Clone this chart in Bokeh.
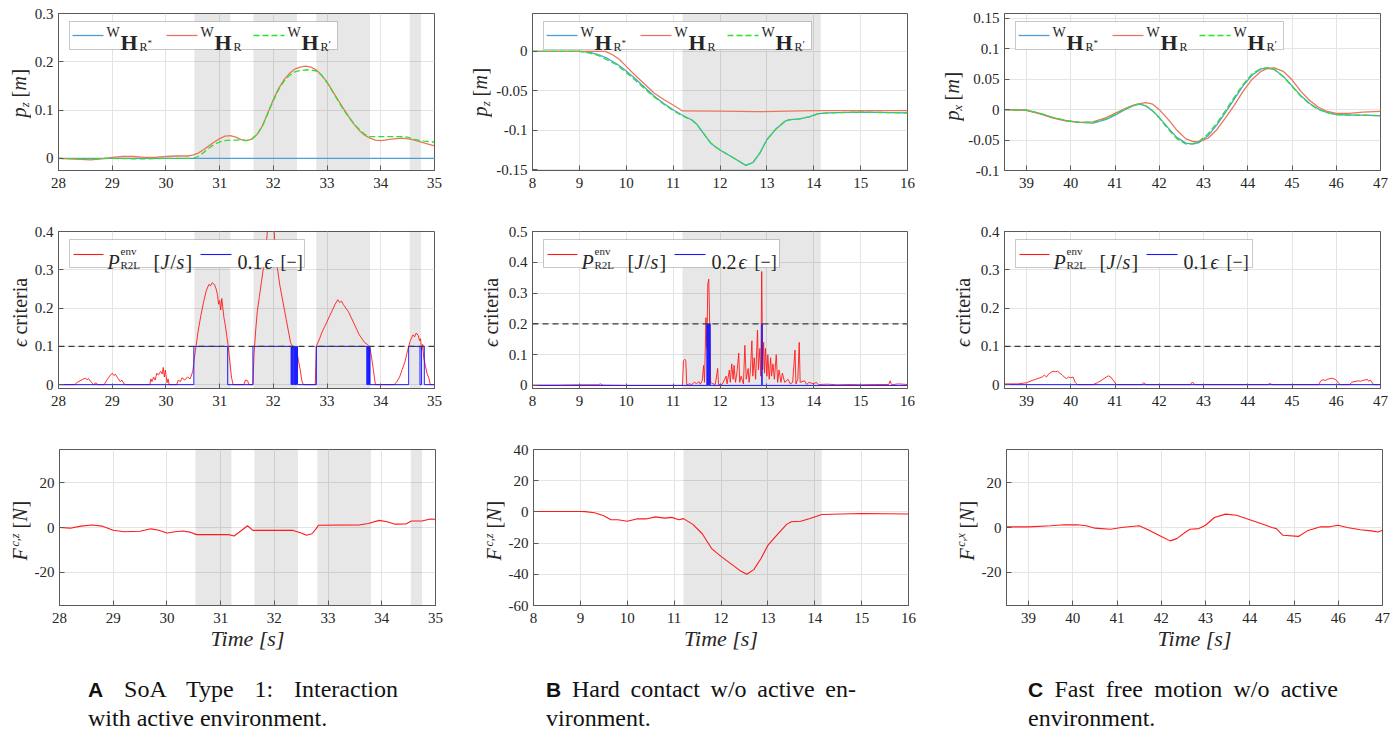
import math
from bokeh.plotting import figure
from bokeh.models import (Range1d, FixedTicker, CustomJSTickFormatter, Span,
                          BoxAnnotation, Label, Div)
from bokeh.layouts import column, row
from bokeh.embed import file_html
from bokeh.resources import INLINE

# ======================= DATA =======================
# ---- Column A : SoA Type 1, interaction with active environment ----
A_xticks = [28, 29, 30, 31, 32, 33, 34, 35]
A_shade_start = [30.53, 31.63, 32.80, 34.54]
A_shade_end = [31.20, 32.44, 33.80, 34.75]

A_t_ref = [28.0, 35.0]
A_pos_ref = [0.0, 0.0]
A_t_meas = [28.0, 28.2, 28.4, 28.6, 28.8, 29.0, 29.2, 29.4, 29.6, 29.8, 30.0, 30.2, 30.4, 30.5,
            30.6, 30.7, 30.8, 30.9, 31.0, 31.1, 31.2, 31.3, 31.4, 31.5, 31.6, 31.7, 31.8, 31.9,
            32.0, 32.1, 32.2, 32.3, 32.4, 32.5, 32.6, 32.7, 32.8, 32.9, 33.0, 33.1, 33.2, 33.3,
            33.4, 33.5, 33.6, 33.7, 33.8, 33.9, 34.0, 34.2, 34.4, 34.6, 34.8, 35.0]
A_pos_meas = [0.0, -0.001, -0.002, -0.003, -0.001, 0.002, 0.004, 0.004, 0.002, 0.002, 0.004, 0.005,
              0.005, 0.007, 0.011, 0.018, 0.026, 0.034, 0.041, 0.046, 0.047, 0.044, 0.039, 0.037,
              0.040, 0.050, 0.068, 0.095, 0.122, 0.145, 0.163, 0.176, 0.185, 0.189, 0.191, 0.189,
              0.183, 0.172, 0.158, 0.140, 0.122, 0.104, 0.087, 0.071, 0.058, 0.048, 0.042, 0.038,
              0.037, 0.040, 0.042, 0.039, 0.032, 0.026]
A_t_adm = [28.0, 28.5, 29.0, 29.5, 30.0, 30.5, 30.6, 30.7, 30.8, 30.9, 31.0, 31.1, 31.2, 31.3,
           31.4, 31.5, 31.6, 31.7, 31.8, 31.9, 32.0, 32.1, 32.2, 32.3, 32.4, 32.5, 32.6, 32.7,
           32.8, 32.9, 33.0, 33.1, 33.2, 33.3, 33.4, 33.5, 33.6, 33.7, 33.8, 34.0, 34.2, 34.4,
           34.5, 34.6, 34.8, 35.0]
A_pos_adm = [0.0, -0.001, 0.0, -0.001, 0.0, 0.0, 0.004, 0.012, 0.021, 0.029, 0.034, 0.037, 0.038,
             0.038, 0.038, 0.037, 0.040, 0.050, 0.068, 0.094, 0.120, 0.143, 0.160, 0.172, 0.179,
             0.182, 0.183, 0.183, 0.181, 0.172, 0.157, 0.139, 0.120, 0.102, 0.086, 0.072, 0.060,
             0.050, 0.045, 0.045, 0.045, 0.045, 0.044, 0.040, 0.036, 0.034]

A_power_pts = [(28.0, 0), (28.3, 0), (28.35, 0.006), (28.4, 0.01), (28.45, 0.014), (28.5, 0.017),
               (28.53, 0.013), (28.56, 0.016), (28.6, 0.008), (28.63, 0.004), (28.65, 0), (28.7, 0.005),
               (28.73, 0), (28.85, 0), (28.9, 0.012), (28.95, 0.022), (29.0, 0.03), (29.03, 0.024),
               (29.06, 0.027), (29.1, 0.018), (29.15, 0.008), (29.18, 0.012), (29.22, 0.002), (29.25, 0),
               (29.7, 0), (29.72, 0.015), (29.74, 0.008), (29.77, 0.02), (29.8, 0.012), (29.83, 0.03),
               (29.86, 0.025), (29.9, 0.035), (29.93, 0.028), (29.95, 0.045), (29.97, 0.02), (29.99, 0.038),
               (30.02, 0.005), (30.04, 0.015), (30.06, 0), (30.2, 0), (30.23, 0.012), (30.27, 0.008),
               (30.3, 0.018), (30.35, 0.012), (30.4, 0.02), (30.45, 0.015), (30.5, 0.035), (30.53, 0.07),
               (30.56, 0.1), (30.6, 0.14), (30.65, 0.18), (30.7, 0.215), (30.75, 0.245), (30.8, 0.262),
               (30.83, 0.258), (30.86, 0.266), (30.9, 0.262), (30.93, 0.252), (30.96, 0.235), (30.98, 0.21),
               (31.0, 0.22), (31.02, 0.195), (31.04, 0.225), (31.06, 0.2), (31.08, 0.175), (31.1, 0.16),
               (31.13, 0.13), (31.16, 0.1), (31.19, 0.06), (31.22, 0.02), (31.25, 0), (31.45, 0),
               (31.48, 0.012), (31.52, 0.01), (31.55, 0), (31.62, 0), (31.64, 0.08), (31.67, 0.14),
               (31.7, 0.19), (31.74, 0.23), (31.78, 0.27), (31.81, 0.3), (31.84, 0.33), (31.87, 0.37),
               (31.9, 0.42), (32.0, 0.45), (32.03, 0.36), (32.05, 0.32), (32.08, 0.3), (32.12, 0.26),
               (32.16, 0.23), (32.2, 0.2), (32.24, 0.17), (32.28, 0.14), (32.32, 0.11), (32.36, 0.1),
               (32.4, 0.09), (32.44, 0.085), (32.47, 0.06), (32.5, 0.04), (32.53, 0.01), (32.56, 0),
               (32.78, 0), (32.8, 0.1), (32.83, 0.11), (32.86, 0.12), (32.9, 0.135), (32.95, 0.15),
               (33.0, 0.165), (33.05, 0.18), (33.1, 0.195), (33.15, 0.21), (33.2, 0.222), (33.23, 0.215),
               (33.27, 0.218), (33.3, 0.21), (33.35, 0.2), (33.4, 0.19), (33.45, 0.175), (33.5, 0.16),
               (33.55, 0.145), (33.6, 0.13), (33.65, 0.12), (33.7, 0.11), (33.75, 0.105), (33.8, 0.095),
               (33.83, 0.07), (33.86, 0.04), (33.9, 0), (34.25, 0), (34.3, 0.008), (34.35, 0.02),
               (34.4, 0.04), (34.45, 0.06), (34.5, 0.09), (34.55, 0.115), (34.6, 0.13), (34.63, 0.125),
               (34.66, 0.135), (34.7, 0.128), (34.72, 0.115), (34.74, 0.12), (34.76, 0.09), (34.78, 0.105),
               (34.8, 0.07), (34.83, 0.05), (34.86, 0.03), (34.9, 0.015), (34.92, 0), (35.0, 0)]
A_eps_pts = [(28, 0), (30.52, 0), (30.52, 0.1), (31.15, 0.1), (31.15, 0), (31.62, 0), (31.62, 0.1),
             (32.33, 0.1), (32.33, 0), (32.34, 0), (32.34, 0.1), (32.355, 0.1), (32.355, 0), (32.365, 0),
             (32.365, 0.1), (32.38, 0.1), (32.38, 0), (32.39, 0), (32.39, 0.1), (32.40, 0.1), (32.40, 0),
             (32.41, 0), (32.41, 0.1), (32.42, 0.1), (32.42, 0), (32.43, 0), (32.43, 0.1), (32.45, 0.1),
             (32.45, 0), (32.8, 0), (32.8, 0.1), (33.74, 0.1), (33.74, 0), (33.75, 0), (33.75, 0.1),
             (33.76, 0.1), (33.76, 0), (33.77, 0), (33.77, 0.1), (33.78, 0.1), (33.78, 0), (33.79, 0),
             (33.79, 0.1), (33.8, 0.1), (33.8, 0), (34.52, 0), (34.52, 0.1), (34.73, 0.1), (34.73, 0),
             (34.76, 0), (34.76, 0.1), (34.81, 0.1), (34.81, 0), (35, 0)]
A_threshold = 0.1

A_t_force = [28.0, 28.2, 28.4, 28.6, 28.8, 29.0, 29.2, 29.5, 29.7, 29.85, 30.0, 30.15, 30.3, 30.45,
             30.55, 31.15, 31.25, 31.35, 31.5, 31.6, 32.35, 32.5, 32.6, 32.7, 32.78, 32.82, 33.6,
             33.75, 33.95, 34.1, 34.25, 34.45, 34.55, 34.75, 34.9, 35.0]
A_force = [0.0, -0.3, 0.6, 1.1, 0.6, -1.2, -1.9, -1.7, -0.6, -1.2, -2.5, -1.9, -1.6, -2.2, -3.2,
           -3.2, -3.8, -2.0, 0.8, -1.3, -1.3, -2.5, -3.5, -2.8, -0.5, 1.0, 1.2, 1.8, 3.2, 2.6, 1.5,
           1.6, 2.9, 2.9, 3.8, 3.7]

# ---- Column B : hard contact w/o active environment ----
B_xticks = [8, 9, 10, 11, 12, 13, 14, 15, 16]
B_shade_start = [11.20]
B_shade_end = [14.15]
B_t_pos = [8.0, 8.5, 9.0, 9.2, 9.4, 9.6, 9.8, 10.0, 10.2, 10.4, 10.6, 10.8, 11.0, 11.2, 11.4, 11.5,
           11.6, 11.7, 11.8, 11.9, 12.0, 12.2, 12.4, 12.55, 12.7, 12.85, 13.0, 13.2, 13.4, 13.5,
           13.7, 13.9, 14.1, 14.3, 15.0, 16.0]
B_pos_ref = [0, 0, 0, -0.001, -0.004, -0.009, -0.016, -0.025, -0.035, -0.046, -0.057, -0.066,
             -0.074, -0.081, -0.087, -0.092, -0.100, -0.108, -0.116, -0.121, -0.125, -0.132, -0.139,
             -0.1445, -0.141, -0.129, -0.112, -0.098, -0.088, -0.0865, -0.0855, -0.083, -0.079,
             -0.078, -0.077, -0.078]
B_pos_adm = [0, 0, 0, -0.002, -0.005, -0.011, -0.017, -0.027, -0.037, -0.048, -0.058, -0.067,
             -0.075, -0.082, -0.087, -0.092, -0.100, -0.108, -0.116, -0.121, -0.125, -0.132, -0.139,
             -0.1445, -0.141, -0.129, -0.112, -0.098, -0.088, -0.0865, -0.0855, -0.083, -0.079,
             -0.078, -0.077, -0.078]
B_t_meas = [8.0, 9.0, 9.55, 9.7, 9.85, 10.0, 10.2, 10.4, 10.6, 10.8, 11.0, 11.2, 12.0, 12.8, 14.0, 16.0]
B_pos_meas = [0, 0, 0, -0.004, -0.010, -0.019, -0.031, -0.042, -0.053, -0.061, -0.068, -0.0755,
              -0.0758, -0.0765, -0.075, -0.075]

B_power_pts = [(8.0, 0.001), (8.5, 0.001), (9.0, 0.002), (9.4, 0.002), (9.45, 0.005), (9.5, 0.001),
               (10.0, 0.0), (11.0, 0.0), (11.2, 0.0), (11.22, 0.08), (11.25, 0.085), (11.27, 0.08),
               (11.29, 0.002), (11.35, 0.005), (11.4, 0.003), (11.45, 0.01), (11.5, 0.006), (11.55, 0.012),
               (11.58, 0.004), (11.62, 0.015), (11.65, 0.065), (11.67, 0.01), (11.7, 0.22), (11.72, 0.12),
               (11.74, 0.33), (11.76, 0.345), (11.78, 0.2), (11.8, 0.01), (11.85, 0.005), (11.9, 0.003),
               (11.95, 0.055), (11.97, 0.002), (12.05, 0.004), (12.13, 0.03), (12.15, 0.005), (12.2, 0.05),
               (12.22, 0.01), (12.25, 0.07), (12.28, 0.02), (12.3, 0.065), (12.33, 0.01), (12.36, 0.04),
               (12.4, 0.105), (12.42, 0.01), (12.45, 0.03), (12.5, 0.005), (12.53, 0.13), (12.56, 0.02),
               (12.6, 0.055), (12.62, 0.01), (12.65, 0.05), (12.68, 0.145), (12.7, 0.03), (12.73, 0.09),
               (12.76, 0.02), (12.8, 0.18), (12.82, 0.05), (12.85, 0.12), (12.87, 0.03), (12.89, 0.37),
               (12.91, 0.05), (12.93, 0.14), (12.95, 0.04), (12.97, 0.12), (13.0, 0.03), (13.02, 0.1),
               (13.05, 0.02), (13.08, 0.09), (13.1, 0.03), (13.13, 0.07), (13.16, 0.02), (13.2, 0.1),
               (13.23, 0.01), (13.26, 0.05), (13.3, 0.01), (13.33, 0.04), (13.38, 0.01), (13.45, 0.02),
               (13.5, 0.005), (13.55, 0.01), (13.6, 0.115), (13.62, 0.005), (13.66, 0.02), (13.69, 0.14),
               (13.71, 0.01), (13.8, 0.015), (13.85, 0.003), (13.9, 0.01), (14.0, 0.005), (14.05, 0.01),
               (14.1, 0.003), (14.3, 0.004), (14.5, 0.002), (14.8, 0.003), (15.0, 0.002), (15.3, 0.003),
               (15.6, 0.003), (15.63, 0.015), (15.66, 0.002), (15.8, 0.005), (16.0, 0.003)]
B_eps_pts = [(8, 0), (11.72, 0), (11.72, 0.2), (11.73, 0.2), (11.73, 0), (11.74, 0), (11.74, 0.2),
             (11.75, 0.2), (11.75, 0), (11.76, 0), (11.76, 0.2), (11.77, 0.2), (11.77, 0), (11.78, 0),
             (11.78, 0.2), (11.79, 0.2), (11.79, 0), (12.89, 0), (12.89, 0.2), (12.9, 0.2), (12.9, 0),
             (16, 0)]
B_threshold = 0.2

B_t_force = [8.0, 9.0, 9.1, 9.3, 9.5, 9.65, 9.8, 10.0, 10.2, 10.4, 10.6, 10.8, 10.95, 11.1, 11.2,
             11.4, 11.6, 11.8, 12.0, 12.2, 12.4, 12.55, 12.7, 12.85, 13.0, 13.2, 13.4, 13.5, 13.7,
             13.9, 14.15, 15.0, 16.0]
B_force = [0.3, 0.3, 0.2, -0.5, -2.5, -5.0, -5.0, -6.0, -4.5, -4.5, -3.2, -4.0, -3.5, -5.0, -4.3,
           -8.0, -14.0, -23.5, -28.5, -33.0, -37.5, -40.0, -37.0, -30.0, -21.5, -14.5, -8.0, -6.3,
           -6.0, -4.2, -1.7, -1.0, -1.3]

# ---- Column C : fast free motion w/o active environment ----
C_xticks = [39, 40, 41, 42, 43, 44, 45, 46, 47]
C_t_pos = [38.5, 39.0, 39.3, 39.6, 39.9, 40.2, 40.5, 40.8, 41.0, 41.2, 41.4, 41.55, 41.7, 41.85,
           42.0, 42.2, 42.4, 42.6, 42.75, 42.9, 43.1, 43.3, 43.5, 43.7, 43.9, 44.1, 44.3, 44.45,
           44.6, 44.8, 45.0, 45.2, 45.4, 45.6, 45.8, 46.0, 46.3, 46.6, 47.0]
C_pos_ref = [0, -0.001, -0.006, -0.013, -0.018, -0.021, -0.022, -0.016, -0.009, -0.001, 0.006,
             0.009, 0.006, -0.002, -0.013, -0.030, -0.046, -0.055, -0.0565, -0.054, -0.043, -0.025,
             -0.004, 0.018, 0.040, 0.057, 0.067, 0.068, 0.066, 0.055, 0.039, 0.023, 0.010, 0.001,
             -0.005, -0.008, -0.009, -0.009, -0.010]
C_pos_meas = [0, -0.001, -0.007, -0.014, -0.019, -0.021, -0.020, -0.013, -0.006, 0.001, 0.007,
              0.010, 0.0115, 0.009, 0.0, -0.016, -0.034, -0.048, -0.052, -0.0525, -0.047, -0.033,
              -0.013, 0.008, 0.031, 0.050, 0.063, 0.068, 0.0685, 0.063, 0.049, 0.030, 0.015, 0.004,
              -0.003, -0.006, -0.006, -0.004, -0.003]
C_pos_adm = [0, -0.001, -0.006, -0.013, -0.018, -0.021, -0.021, -0.015, -0.008, 0.0, 0.007,
             0.0095, 0.006, -0.002, -0.014, -0.032, -0.048, -0.0565, -0.056, -0.052, -0.040, -0.022,
             -0.001, 0.021, 0.042, 0.059, 0.0675, 0.069, 0.066, 0.054, 0.038, 0.022, 0.009, 0.0,
             -0.005, -0.008, -0.009, -0.009, -0.010]

C_power_pts = [(38.5, 0.002), (38.8, 0.002), (39.0, 0.005), (39.1, 0.01), (39.2, 0.014), (39.28, 0.017),
               (39.35, 0.02), (39.4, 0.025), (39.45, 0.02), (39.5, 0.028), (39.55, 0.032), (39.6, 0.035),
               (39.65, 0.034), (39.7, 0.035), (39.75, 0.03), (39.8, 0.026), (39.85, 0.02), (39.9, 0.016),
               (39.95, 0.02), (40.0, 0.018), (40.05, 0.02), (40.1, 0.006), (40.15, 0.0), (40.5, 0.0),
               (40.6, 0.005), (40.7, 0.012), (40.8, 0.02), (40.85, 0.023), (40.9, 0.02), (40.97, 0.01),
               (41.03, 0.0), (41.6, 0.0), (41.65, 0.005), (41.7, 0.0), (42.7, 0.0), (42.75, 0.007),
               (42.8, 0.0), (44.45, 0.0), (44.5, 0.003), (44.55, 0.0), (45.6, 0.0), (45.65, 0.01),
               (45.7, 0.013), (45.75, 0.011), (45.8, 0.014), (45.9, 0.017), (45.95, 0.015), (46.0, 0.012),
               (46.05, 0.004), (46.1, 0.0), (46.3, 0.0), (46.35, 0.006), (46.4, 0.008), (46.5, 0.01),
               (46.55, 0.009), (46.6, 0.011), (46.65, 0.012), (46.7, 0.014), (46.73, 0.009),
               (46.77, 0.012), (46.82, 0.004), (46.85, 0.0), (47.0, 0.0)]
C_eps_pts = [(38.5, 0.0), (47.0, 0.0)]
C_threshold = 0.1

C_t_force = [38.5, 39.0, 39.5, 39.8, 40.1, 40.3, 40.5, 40.85, 41.1, 41.5, 41.7, 42.0, 42.2, 42.35,
             42.55, 42.65, 42.85, 43.0, 43.2, 43.45, 43.7, 44.0, 44.3, 44.5, 44.6, 44.75, 45.1,
             45.3, 45.6, 45.8, 46.0, 46.2, 46.5, 46.75, 46.9, 47.0]
C_force = [0.3, 0.3, 0.8, 1.2, 1.2, 0.8, -0.3, -0.8, 0.0, 0.8, -1.0, -4.0, -6.0, -5.0, -2.0, -0.8,
           -0.5, 1.0, 4.5, 6.0, 5.5, 3.5, 1.5, 0.0, -0.5, -3.5, -4.0, -1.5, 0.3, 0.3, 1.0, 0.0,
           -1.0, -1.5, -2.0, -1.2]

captions = [("A", "SoA Type 1: Interaction", "with active environment."),
            ("B", "Hard contact w/o active en-", "vironment."),
            ("C", "Fast free motion w/o active", "environment.")]

# ======================= STYLE =======================
SERIF = "Liberation Serif"
TXT = "#262626"
FRAME = "#5a5a5a"
GRID = "#e4e4e4"
LEG_EDGE = "#4a4a4a"
C_REF = "#4d9fda"
C_MEAS = "#e8775a"
C_ADM = "#2ee02e"
C_POW = "#ff1a1a"
C_EPS = "#1a1aff"

FW = {"A": 376, "B": 375, "C": 376}
FH = [157, 157, 156]
TOP = [13, 31, 31]
BOTTOM = [30, 30, 52]
LEFT = {"A": 58, "B": 88, "C": 87}


def fx(p, fw, px):
    r = p.x_range
    return r.start + (r.end - r.start) * px / fw


def fy(p, fh, py):
    r = p.y_range
    return r.end - (r.end - r.start) * py / fh


def txt(p, fw, fh, px, py, text, size, style="normal"):
    p.add_layout(Label(x=fx(p, fw, px), y=fy(p, fh, py), text=text, text_font=SERIF,
                       text_font_size=f"{size}px", text_font_style=style, text_color=TXT,
                       text_align="left", text_baseline="alphabetic"))


def label_fig(lw, r, base_x, start_y, segs):
    """narrow figure holding a rotated, composite y-axis title (segments centred on their box)"""
    fh = FH[r]
    f = figure(x_range=Range1d(0, lw), y_range=Range1d(0, fh), frame_width=lw, frame_height=fh,
               min_border_left=0, min_border_right=0, min_border_top=TOP[r],
               min_border_bottom=BOTTOM[r], x_axis_type=None, y_axis_type=None,
               output_backend="svg", toolbar_location=None, tools="")
    f.outline_line_color = None
    f.background_fill_color = "white"
    f.border_fill_color = "white"
    for text, along, width, shift, size, style in segs:
        f.add_layout(Label(x=base_x + shift - 0.34 * size, y=start_y + along + width / 2.0,
                           text=text, text_font=SERIF, text_font_size=f"{size}px",
                           text_font_style=style, text_color=TXT, angle=math.pi / 2,
                           text_align="center", text_baseline="middle"))
    return f


def pos_segs(axis):
    return [("p", 0, 10, 0, 20, "italic"), (axis, 10, 5.5, 3, 13, "italic"),
            ("[", 20, 6.7, 0, 20, "normal"), ("m", 27, 14.4, 0, 20, "italic"),
            ("]", 42, 6.7, 0, 20, "normal")]


EPS_SEGS = [("\u03f5", 0, 9, 0, 20, "italic"), ("criteria", 13, 56.6, 0, 20, "normal")]


def force_segs(axis):
    return [("F", 0, 12.2, 0, 20, "italic"), ("c," + axis, 14, 13, -8, 12, "italic"),
            ("[", 32, 6.7, 0, 20, "normal"), ("N", 39, 13.3, 0, 20, "italic"),
            ("]", 53, 6.7, 0, 20, "normal")]


def make_panel(col, r, xr, yr, xticks, yticks, left, shades=None, xlabel=None):
    fw, fh = FW[col], FH[r]
    p = figure(x_range=Range1d(*xr), y_range=Range1d(*yr), frame_width=fw, frame_height=fh,
               min_border_left=left, min_border_right=10, min_border_top=TOP[r],
               min_border_bottom=BOTTOM[r], output_backend="svg", toolbar_location=None, tools="")
    p.background_fill_color = "white"
    p.border_fill_color = "white"
    p.outline_line_color = FRAME
    p.outline_line_width = 1
    p.xaxis.ticker = FixedTicker(ticks=xticks)
    p.yaxis.ticker = FixedTicker(ticks=yticks)
    for ax in (p.xaxis[0], p.yaxis[0]):
        ax.formatter = CustomJSTickFormatter(code="return String(tick);")
        ax.major_tick_in = 5
        ax.major_tick_out = 0
        ax.minor_tick_line_color = None
        ax.axis_line_color = FRAME
        ax.major_tick_line_color = FRAME
        ax.major_label_text_font = SERIF
        ax.major_label_text_font_size = "15px"
        ax.major_label_text_color = TXT
    p.yaxis.major_label_standoff = 5
    p.xaxis.major_label_standoff = 7
    p.xgrid.grid_line_color = GRID
    p.ygrid.grid_line_color = GRID
    if shades:
        for a, b in zip(*shades):
            p.add_layout(BoxAnnotation(left=a, right=b, fill_color="#000000", fill_alpha=0.095,
                                       line_color=None, level="underlay"))
    if xlabel:
        p.xaxis.axis_label = xlabel
        p.xaxis.axis_label_text_font = SERIF
        p.xaxis.axis_label_text_font_size = "22px"
        p.xaxis.axis_label_text_font_style = "italic"
        p.xaxis.axis_label_text_color = TXT
        p.xaxis.axis_label_standoff = 0
    return p


def legend_pos(p, fw, fh, marks):
    L, T, W, H = 11, 8, 268, 28
    p.add_layout(BoxAnnotation(left=fx(p, fw, L), right=fx(p, fw, L + W), top=fy(p, fh, T),
                               bottom=fy(p, fh, T + H), fill_color="white", fill_alpha=1.0,
                               line_color=LEG_EDGE, line_width=1))
    styles = [(C_REF, "solid"), (C_MEAS, "solid"), (C_ADM, "6 3")]
    for s, (col, dash), mark in zip([3, 97, 184], styles, marks):
        p.line([fx(p, fw, L + s), fx(p, fw, L + s + 31)], [fy(p, fh, T + 14)] * 2,
               line_color=col, line_width=1.3, line_dash=dash, level="overlay")
        txt(p, fw, fh, L + s + 34, T + 11, "W", 14)
        txt(p, fw, fh, L + s + 48, T + 21, "H", 22, "bold")
        txt(p, fw, fh, L + s + 67, T + 25, "R", 12)
        if mark == "*":
            txt(p, fw, fh, L + s + 75, T + 21, "*", 9)
        elif mark == "'":
            txt(p, fw, fh, L + s + 75, T + 22, "\u2032", 11)


def legend_eps(p, fw, fh, W, coef):
    L, T, H = 11, 8, 28
    p.add_layout(BoxAnnotation(left=fx(p, fw, L), right=fx(p, fw, L + W), top=fy(p, fh, T),
                               bottom=fy(p, fh, T + H), fill_color="white", fill_alpha=1.0,
                               line_color=LEG_EDGE, line_width=1))
    p.line([fx(p, fw, L + 4), fx(p, fw, L + 34)], [fy(p, fh, T + 15)] * 2, line_color=C_POW,
           line_width=1.1, level="overlay")
    p.line([fx(p, fw, L + 131), fx(p, fw, L + 162)], [fy(p, fh, T + 15)] * 2, line_color=C_EPS,
           line_width=1.1, level="overlay")
    txt(p, fw, fh, L + 38, T + 22, "P", 20, "italic")
    txt(p, fw, fh, L + 51, T + 11, "env", 11)
    txt(p, fw, fh, L + 51, T + 25, "R2L", 11)
    txt(p, fw, fh, L + 84, T + 22, "[", 20)
    txt(p, fw, fh, L + 91, T + 22, "J", 20, "italic")
    txt(p, fw, fh, L + 101, T + 22, "/", 20)
    txt(p, fw, fh, L + 107, T + 22, "s", 20, "italic")
    txt(p, fw, fh, L + 116, T + 22, "]", 20)
    txt(p, fw, fh, L + 168, T + 22, coef, 20)
    txt(p, fw, fh, L + 195, T + 22, "\u03f5", 20, "italic")
    txt(p, fw, fh, L + 211, T + 22, "[\u2212]", 18)


def pts(pairs):
    return [a for a, _ in pairs], [b for _, b in pairs]


# ---------------- Row 1: positions ----------------
lA1 = label_fig(31, 0, 25, 53, pos_segs("z"))
pA1 = make_panel("A", 0, (28, 35), (-0.025, 0.3), A_xticks, [0, 0.1, 0.2, 0.3], LEFT["A"] - 31,
                 (A_shade_start, A_shade_end))
pA1.line(A_t_ref, A_pos_ref, line_color=C_REF, line_width=1.3)
pA1.line(A_t_meas, A_pos_meas, line_color=C_MEAS, line_width=1.3)
pA1.line(A_t_adm, A_pos_adm, line_color=C_ADM, line_width=1.3, line_dash="6 3")
legend_pos(pA1, FW["A"], FH[0], ["*", "", "'"])

lB1 = label_fig(48, 0, 42, 54, pos_segs("z"))
pB1 = make_panel("B", 0, (8, 16), (-0.151, 0.048), B_xticks, [-0.15, -0.1, -0.05, 0], LEFT["B"] - 48,
                 (B_shade_start, B_shade_end))
pB1.line(B_t_pos, B_pos_ref, line_color=C_REF, line_width=1.3)
pB1.line(B_t_meas, B_pos_meas, line_color=C_MEAS, line_width=1.3)
pB1.line(B_t_pos, B_pos_adm, line_color=C_ADM, line_width=1.3, line_dash="6 3")
legend_pos(pB1, FW["B"], FH[0], ["*", "", "'"])

lC1 = label_fig(47, 0, 41, 50, pos_segs("x"))
pC1 = make_panel("C", 0, (38.5, 47), (-0.1, 0.158), C_xticks, [-0.1, -0.05, 0, 0.05, 0.1, 0.15],
                 LEFT["C"] - 47)
pC1.line(C_t_pos, C_pos_ref, line_color=C_REF, line_width=1.3)
pC1.line(C_t_pos, C_pos_meas, line_color=C_MEAS, line_width=1.3)
pC1.line(C_t_pos, C_pos_adm, line_color=C_ADM, line_width=1.3, line_dash="6 3")
legend_pos(pC1, FW["C"], FH[0], ["*", "", "'"])


# ---------------- Row 2: epsilon criteria ----------------
def eps_panel(col, xr, yr, xticks, yticks, left, shades, power, eps, thr, coef, legw):
    p = make_panel(col, 1, xr, yr, xticks, yticks, left, shades)
    x, y = pts(power)
    p.line(x, y, line_color=C_POW, line_width=0.9)
    x, y = pts(eps)
    p.line(x, y, line_color=C_EPS, line_width=1.0)
    p.add_layout(Span(location=thr, dimension="width", line_color="#3a3a3a", line_width=1.1,
                      line_dash="6 4"))
    legend_eps(p, FW[col], FH[1], legw, coef)
    return p


lA2 = label_fig(31, 1, 26.5, 41, EPS_SEGS)
pA2 = eps_panel("A", (28, 35), (-0.01, 0.4), A_xticks, [0, 0.1, 0.2, 0.3, 0.4], LEFT["A"] - 31,
                (A_shade_start, A_shade_end), A_power_pts, A_eps_pts, A_threshold, "0.1", 235)
lB2 = label_fig(58, 1, 53.5, 41, EPS_SEGS)
pB2 = eps_panel("B", (8, 16), (-0.01, 0.5), B_xticks, [0, 0.1, 0.2, 0.3, 0.4, 0.5], LEFT["B"] - 58,
                (B_shade_start, B_shade_end), B_power_pts, B_eps_pts, B_threshold, "0.2", 236)
lC2 = label_fig(57, 1, 52.5, 41, EPS_SEGS)
pC2 = eps_panel("C", (38.5, 47), (-0.01, 0.4), C_xticks, [0, 0.1, 0.2, 0.3, 0.4], LEFT["C"] - 57,
                None, C_power_pts, C_eps_pts, C_threshold, "0.1", 237)

# ---------------- Row 3: contact forces ----------------
lA3 = label_fig(31, 2, 26.5, 45, force_segs("z"))
pA3 = make_panel("A", 2, (28, 35), (-35, 35), A_xticks, [-20, 0, 20], LEFT["A"] - 31,
                 (A_shade_start, A_shade_end), "Time [s]")
pA3.line(A_t_force, A_force, line_color=C_POW, line_width=1.1)

lB3 = label_fig(60, 2, 55.5, 45, force_segs("z"))
pB3 = make_panel("B", 2, (8, 16), (-60, 40), B_xticks, [-60, -40, -20, 0, 20, 40], LEFT["B"] - 60,
                 (B_shade_start, B_shade_end), "Time [s]")
pB3.line(B_t_force, B_force, line_color=C_POW, line_width=1.1)

lC3 = label_fig(60, 2, 55, 45, force_segs("x"))
pC3 = make_panel("C", 2, (38.5, 47), (-35, 35), C_xticks, [-20, 0, 20], LEFT["C"] - 60,
                 None, "Time [s]")
pC3.line(C_t_force, C_force, line_color=C_POW, line_width=1.1)

# ---------------- Captions ----------------
cap_left = [83, 541, 1023]
blocks = []
for (letter, line1, line2), lx in zip(captions, cap_left):
    blocks.append(
        f'<div style="position:absolute;left:{lx}px;top:13px;width:310px;line-height:28px;">'
        f'<div style="text-align:justify;text-align-last:justify;">'
        f'<span style="font-family:\'Liberation Sans\';font-weight:bold;font-size:21px;">{letter}</span>'
        f' {line1}</div><div>{line2}</div></div>')
cap_html = ('<div style="position:relative;width:1390px;height:72px;font-family:\'Liberation Serif\';'
            'font-size:24px;color:#111111;">' + "".join(blocks) + '</div>')
cap = Div(text=cap_html, width=1390, height=72)

layout = column(row(lA1, pA1, lB1, pB1, lC1, pC1),
                row(lA2, pA2, lB2, pB2, lC2, pC2),
                row(lA3, pA3, lB3, pB3, lC3, pC3),
                cap)
open("out.html", "w").write(file_html(layout, INLINE))
